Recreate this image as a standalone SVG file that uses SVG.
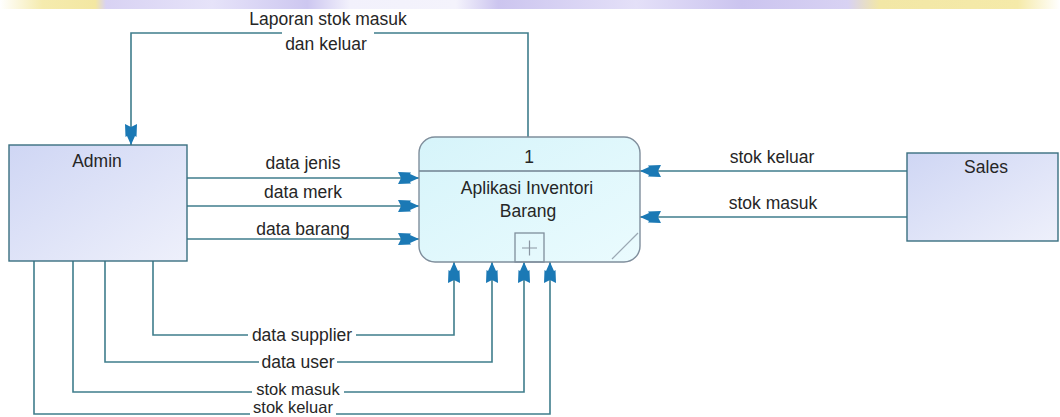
<svg xmlns="http://www.w3.org/2000/svg" width="1060" height="417" viewBox="0 0 1060 417">
<style>
text{font-family:"Liberation Sans",Arial,sans-serif;font-size:17.5px;fill:#262626}
.c{text-anchor:middle}
.s{font-size:16.5px}
.flow{fill:none;stroke:#3f7d8c;stroke-width:1.6}
.arr{marker-end:url(#ah)}
.ent{stroke:#3a6f80;stroke-width:1.4}
</style>
<defs>
<marker id="ah" markerUnits="userSpaceOnUse" markerWidth="26" markerHeight="14" refX="23" refY="6" orient="auto" overflow="visible">
<path d="M23,6 L14,2 L15,0.5 L2,0 L5,6 L2,12 L15,11.5 L14,10 Z" fill="#1b79b5"/>
</marker>
<linearGradient id="entG" x1="0" y1="0" x2="1" y2="1">
<stop offset="0" stop-color="#cfd6f4"/>
<stop offset="1" stop-color="#eef0fb"/>
</linearGradient>
<linearGradient id="procG" x1="0" y1="0" x2="1" y2="1">
<stop offset="0" stop-color="#d6f4fa"/>
<stop offset="1" stop-color="#eafbfe"/>
</linearGradient>
<linearGradient id="wm" x1="0" y1="0" x2="1" y2="0">
<stop offset="0" stop-color="#ffffff"/>
<stop offset="0.04" stop-color="#f5ebae"/>
<stop offset="0.09" stop-color="#f3e7a2"/>
<stop offset="0.1" stop-color="#d8d2f3"/>
<stop offset="0.2" stop-color="#e6e3f9"/>
<stop offset="0.29" stop-color="#cdc7f0"/>
<stop offset="0.33" stop-color="#f2f1fc"/>
<stop offset="0.43" stop-color="#f4f3fc"/>
<stop offset="0.47" stop-color="#ccc5ef"/>
<stop offset="0.6" stop-color="#e4e0f8"/>
<stop offset="0.7" stop-color="#cbc4ef"/>
<stop offset="0.8" stop-color="#d8d2f3"/>
<stop offset="0.83" stop-color="#f2e7a6"/>
<stop offset="0.96" stop-color="#f5eaa9"/>
<stop offset="1" stop-color="#ffffff"/>
</linearGradient>
</defs>
<rect x="0" y="0" width="1060" height="417" fill="#ffffff"/>
<rect x="0" y="0" width="1060" height="9" fill="url(#wm)"/>

<g id="connectors">
<path class="flow" d="M528,137 V33 H374"/>
<path class="flow arr" d="M282,33 H131 V145"/>
<path class="flow arr" d="M187,178 H419"/>
<path class="flow arr" d="M187,206 H419"/>
<path class="flow arr" d="M187,239 H419"/>
<path class="flow arr" d="M907,171 H640"/>
<path class="flow arr" d="M907,217 H640"/>
<path class="flow" d="M153,261 V335 H248"/>
<path class="flow arr" d="M356,335 H454 V262"/>
<path class="flow" d="M105,261 V362 H259"/>
<path class="flow arr" d="M337,362 H492 V262"/>
<path class="flow" d="M73,261 V392 H252"/>
<path class="flow arr" d="M344,392 H524 V262"/>
<path class="flow" d="M34,261 V414 H250"/>
<path class="flow arr" d="M336,414 H550 V262"/>
<text class="c" x="328" y="25">Laporan stok masuk</text>
<text class="c" x="326" y="50">dan keluar</text>
<text class="c" x="303" y="169">data jenis</text>
<text class="c" x="303" y="198">data merk</text>
<text class="c" x="303" y="235">data barang</text>
<text class="c" x="772" y="163">stok keluar</text>
<text class="c" x="773" y="209">stok masuk</text>
<text class="c" x="302" y="341">data supplier</text>
<text class="c" x="298" y="368">data user</text>
<text class="c s" x="298" y="395">stok masuk</text>
<text class="c s" x="293" y="413">stok keluar</text>
</g>

<g id="admin">
<rect class="ent" x="9" y="145" width="178" height="116" fill="url(#entG)"/>
<text class="c" x="97" y="167">Admin</text>
</g>

<g id="sales">
<rect class="ent" x="907" y="153" width="151" height="88" fill="url(#entG)"/>
<text class="c" x="986" y="173">Sales</text>
</g>

<g id="process">
<rect x="419" y="137" width="221" height="125" rx="16" fill="url(#procG)" stroke="#7f8e9c" stroke-width="1.4"/>
<line x1="419" y1="171" x2="640" y2="171" stroke="#6f8090" stroke-width="1.4"/>
<text class="c" x="529" y="163">1</text>
<text class="c" x="527" y="194">Aplikasi Inventori</text>
<text class="c" x="528" y="217">Barang</text>
<rect x="515" y="233" width="29" height="29" fill="none" stroke="#7f8e9c" stroke-width="1.3"/>
<path d="M522,248 H537 M529.5,240.5 V255.5" stroke="#8a96a2" stroke-width="1.2" fill="none"/>
<line x1="612" y1="259" x2="638" y2="233" stroke="#9aa8b4" stroke-width="1.2"/>
</g>
</svg>
